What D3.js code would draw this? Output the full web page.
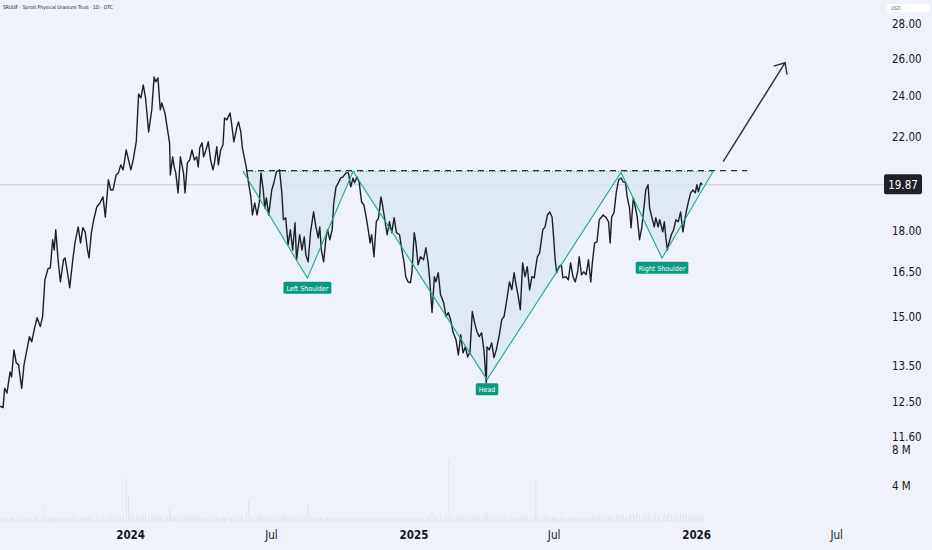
<!DOCTYPE html>
<html>
<head>
<meta charset="utf-8">
<script src="https://cdn.jsdelivr.net/npm/d3@7"></script>
<style>
html, body { margin: 0; padding: 0; background: #eff2fa; overflow: hidden; }
svg { display: block; }
</style>
</head>
<body>
<svg id="svg"></svg>
<script>
// daily closes (date, price in USD)
const closes = [
  ["2023-07-17",12.39],["2023-07-21",12.35],["2023-07-23",12.87],["2023-07-26",12.74],["2023-07-30",13.33],
  ["2023-08-01",13.19],["2023-08-04",13.97],["2023-08-07",13.59],["2023-08-10",13.53],["2023-08-14",12.87],
  ["2023-08-17",13.53],["2023-08-20",13.88],["2023-08-24",14.37],["2023-08-27",14.21],["2023-08-31",14.68],
  ["2023-09-03",14.96],["2023-09-07",14.68],["2023-09-10",14.99],["2023-09-13",16.22],["2023-09-17",16.61],
  ["2023-09-20",16.64],["2023-09-23",17.67],["2023-09-25",17.29],["2023-09-27",18.05],["2023-09-30",16.93],
  ["2023-10-03",16.15],["2023-10-07",16.93],["2023-10-09",17.00],["2023-10-13",16.33],["2023-10-15",15.95],
  ["2023-10-19",16.93],["2023-10-22",17.59],["2023-10-26",18.16],["2023-10-29",17.55],["2023-11-01",18.13],
  ["2023-11-04",17.97],["2023-11-07",17.29],["2023-11-09",17.00],["2023-11-12",17.94],["2023-11-15",18.44],
  ["2023-11-19",18.95],["2023-11-23",19.11],["2023-11-27",19.36],["2023-11-30",18.55],["2023-12-04",20.08],
  ["2023-12-07",19.65],["2023-12-10",19.65],["2023-12-14",20.29],["2023-12-17",20.38],["2023-12-20",20.73],
  ["2023-12-23",20.51],["2023-12-27",21.40],["2023-12-30",20.95],["2024-01-02",20.51],["2024-01-05",20.95],
  ["2024-01-09",21.78],["2024-01-12",24.12],["2024-01-15",23.91],["2024-01-18",24.59],["2024-01-21",23.91],
  ["2024-01-25",22.24],["2024-01-29",23.31],["2024-02-01",25.01],["2024-02-03",24.75],["2024-02-06",24.96],
  ["2024-02-09",23.31],["2024-02-11",23.66],["2024-02-15",23.16],["2024-02-18",22.43],["2024-02-21",21.73],
  ["2024-02-22",20.29],["2024-02-25",21.09],["2024-02-27",20.64],["2024-02-29",20.38],["2024-03-03",19.53],
  ["2024-03-06",21.09],["2024-03-10",20.38],["2024-03-12",19.53],["2024-03-15",20.82],["2024-03-18",20.95],
  ["2024-03-21",21.40],["2024-03-24",20.95],["2024-03-27",21.09],["2024-03-29",20.64],["2024-03-31",21.50],
  ["2024-04-03",21.73],["2024-04-05",21.09],["2024-04-08",21.40],["2024-04-11",21.78],["2024-04-14",20.95],
  ["2024-04-17",20.51],["2024-04-19",20.82],["2024-04-22",21.55],["2024-04-24",20.73],["2024-04-27",21.40],
  ["2024-04-30",21.64],["2024-05-02",22.91],["2024-05-05",22.82],["2024-05-09",23.16],["2024-05-11",22.67],
  ["2024-05-14",21.78],["2024-05-18",22.48],["2024-05-20",22.72],["2024-05-23",22.24],["2024-05-25",21.50],
  ["2024-05-30",20.64],["2024-06-02",19.95],["2024-06-05",19.36],["2024-06-07",18.63],["2024-06-10",19.11],
  ["2024-06-13",18.63],["2024-06-16",19.15],["2024-06-18",20.38],["2024-06-21",19.65],["2024-06-23",18.91],
  ["2024-06-25",19.32],["2024-06-28",18.63],["2024-07-02",19.65],["2024-07-05",19.99],["2024-07-08",20.42],
  ["2024-07-12",20.51],["2024-07-15",19.53],["2024-07-17",18.44],["2024-07-20",18.52],["2024-07-23",17.48],
  ["2024-07-26",18.05],["2024-07-29",17.29],["2024-08-01",18.32],["2024-08-03",16.93],["2024-08-07",17.86],
  ["2024-08-10",17.29],["2024-08-13",17.78],["2024-08-15",17.11],["2024-08-18",16.86],["2024-08-21",17.94],
  ["2024-08-25",18.75],["2024-08-28",18.16],["2024-08-31",17.74],["2024-09-02",18.16],["2024-09-04",17.29],
  ["2024-09-07",16.86],["2024-09-10",17.74],["2024-09-12",18.05],["2024-09-15",17.67],["2024-09-18",18.05],
  ["2024-09-20",19.11],["2024-09-23",19.78],["2024-09-26",19.95],["2024-09-29",20.16],["2024-10-02",20.21],
  ["2024-10-06",20.38],["2024-10-09",20.38],["2024-10-12",19.78],["2024-10-15",20.16],["2024-10-17",19.95],
  ["2024-10-20",20.21],["2024-10-23",19.95],["2024-10-26",19.15],["2024-10-29",19.03],["2024-11-01",18.52],
  ["2024-11-03",18.16],["2024-11-06",17.55],["2024-11-08",17.86],["2024-11-11",17.04],["2024-11-14",18.36],
  ["2024-11-17",18.52],["2024-11-20",19.36],["2024-11-22",19.03],["2024-11-25",18.44],["2024-11-28",17.86],
  ["2024-12-01",18.36],["2024-12-04",17.94],["2024-12-07",18.52],["2024-12-10",17.94],["2024-12-14",17.86],
  ["2024-12-17",17.29],["2024-12-20",16.82],["2024-12-22",16.33],["2024-12-25",16.15],["2024-12-28",16.12],
  ["2024-12-30",16.47],["2025-01-02",17.94],["2025-01-04",17.59],["2025-01-07",16.75],["2025-01-10",17.04],
  ["2025-01-14",16.93],["2025-01-17",17.37],["2025-01-20",16.82],["2025-01-22",16.22],["2025-01-25",15.13],
  ["2025-01-28",16.33],["2025-01-30",16.15],["2025-02-02",16.47],["2025-02-05",15.71],["2025-02-09",15.45],
  ["2025-02-12",15.00],["2025-02-15",15.13],["2025-02-18",14.90],["2025-02-21",14.52],["2025-02-25",14.27],
  ["2025-02-28",13.82],["2025-03-03",14.43],["2025-03-06",13.88],["2025-03-09",14.06],["2025-03-12",13.76],
  ["2025-03-15",13.91],["2025-03-18",15.16],["2025-03-21",14.80],["2025-03-24",14.52],["2025-03-27",14.37],
  ["2025-03-30",14.49],["2025-04-02",13.97],["2025-04-05",13.02],["2025-04-06",14.06],["2025-04-09",13.97],
  ["2025-04-12",14.18],["2025-04-15",13.74],["2025-04-18",13.97],["2025-04-22",14.43],["2025-04-25",14.90],
  ["2025-04-28",15.00],["2025-05-01",15.45],["2025-05-05",16.15],["2025-05-08",15.88],["2025-05-11",16.47],
  ["2025-05-13",16.12],["2025-05-16",15.71],["2025-05-19",15.22],["2025-05-22",16.82],["2025-05-25",16.33],
  ["2025-05-28",16.68],["2025-05-31",15.88],["2025-06-03",16.33],["2025-06-06",16.29],["2025-06-08",16.68],
  ["2025-06-10",17.04],["2025-06-13",17.18],["2025-06-17",18.05],["2025-06-20",18.16],["2025-06-23",18.63],
  ["2025-06-26",18.75],["2025-06-29",18.55],["2025-07-01",17.78],["2025-07-03",16.93],["2025-07-05",16.47],
  ["2025-07-08",16.68],["2025-07-11",16.75],["2025-07-13",16.29],["2025-07-17",16.33],["2025-07-20",16.22],
  ["2025-07-23",16.82],["2025-07-26",16.33],["2025-07-29",16.15],["2025-08-01",16.50],["2025-08-03",17.04],
  ["2025-08-06",16.40],["2025-08-09",16.50],["2025-08-12",16.40],["2025-08-15",16.93],["2025-08-18",16.15],
  ["2025-08-20",16.82],["2025-08-23",17.55],["2025-08-26",17.59],["2025-08-29",18.44],["2025-09-01",18.55],
  ["2025-09-03",18.63],["2025-09-07",18.52],["2025-09-10",18.36],["2025-09-12",17.55],["2025-09-14",18.55],
  ["2025-09-17",18.71],["2025-09-20",19.57],["2025-09-23",20.08],["2025-09-26",20.16],["2025-09-29",19.99],
  ["2025-10-02",19.95],["2025-10-04",19.36],["2025-10-07",18.91],["2025-10-09",18.13],["2025-10-12",19.32],
  ["2025-10-14",19.03],["2025-10-17",18.55],["2025-10-20",17.67],["2025-10-23",18.16],["2025-10-26",19.03],
  ["2025-10-28",19.65],["2025-10-31",19.87],["2025-11-02",18.91],["2025-11-05",18.52],["2025-11-08",18.16],
  ["2025-11-10",18.52],["2025-11-13",18.16],["2025-11-15",18.44],["2025-11-19",17.97],["2025-11-21",18.36],
  ["2025-11-23",17.74],["2025-11-25",17.29],["2025-11-27",17.55],["2025-11-30",17.86],["2025-12-03",18.05],
  ["2025-12-06",18.44],["2025-12-09",18.36],["2025-12-12",18.75],["2025-12-15",17.97],["2025-12-16",18.16],
  ["2025-12-19",18.71],["2025-12-22",19.15],["2025-12-25",19.53],["2025-12-28",19.65],["2025-12-31",19.53],
  ["2026-01-02",19.87],["2026-01-04",19.57],["2026-01-07",19.95],["2026-01-09",19.87]
];

// volume in millions, one value per close above
const volumes = [
  0.3,0.4,0.3,0.5,0.4,0.6,0.5,0.4,0.7,0.5,0.4,0.6,0.5,0.4,0.6,0.5,0.4,0.6,1.5,0.6,
  0.5,0.7,0.5,0.4,0.6,0.5,0.4,0.5,0.3,0.4,0.5,0.6,0.4,0.5,0.4,0.6,0.5,0.7,0.5,0.4,
  0.6,0.5,0.7,0.5,0.6,0.8,0.6,0.5,0.7,0.6,0.9,5.0,2.9,1.1,0.8,0.9,0.7,0.6,0.9,0.7,
  0.6,0.8,0.7,0.6,0.9,0.7,0.6,0.8,0.7,1.5,0.8,0.6,0.7,0.5,0.6,0.7,0.5,0.6,0.8,0.5,
  0.6,0.5,0.7,0.4,0.6,0.5,0.4,0.6,0.5,0.7,0.4,0.5,0.6,0.4,0.5,0.6,0.5,0.7,0.4,0.5,
  0.6,0.5,0.4,0.6,0.7,0.9,2.4,0.8,0.6,0.7,0.5,0.6,0.8,0.5,0.4,0.6,0.7,0.5,0.6,0.7,
  0.5,0.6,0.8,0.6,0.5,0.7,0.6,0.5,0.7,0.8,0.6,0.5,0.7,2.1,0.6,0.5,0.6,0.4,0.5,0.6,
  0.4,0.5,0.6,0.4,0.5,0.4,0.6,0.5,0.3,0.4,0.5,0.4,0.3,0.5,0.4,0.3,0.4,0.5,0.3,0.4,
  0.5,0.3,0.4,0.5,0.4,0.3,0.5,0.4,0.3,0.4,0.5,0.3,0.4,0.3,0.5,0.4,0.3,0.4,0.3,0.4,
  0.5,0.3,0.4,0.5,0.4,0.3,0.4,0.6,0.5,1.5,0.7,0.5,0.6,0.8,0.6,0.9,6.9,0.9,0.7,0.6,
  0.5,0.7,0.6,0.5,0.6,0.7,0.5,0.6,0.8,0.6,0.7,0.9,1.2,0.8,0.6,0.7,0.5,0.6,0.5,0.7,
  0.6,0.5,0.4,0.6,0.5,0.4,0.6,0.5,0.6,0.7,0.5,0.6,0.7,0.9,4.9,1.0,0.7,0.6,0.8,0.7,
  0.6,0.5,0.7,0.6,0.5,0.4,0.6,0.5,0.4,0.5,0.6,0.4,0.5,0.6,0.4,0.5,0.4,0.6,0.5,0.4,
  0.5,0.6,0.5,0.7,0.6,0.5,0.7,0.6,0.8,0.6,0.7,0.8,0.9,0.7,0.8,0.6,0.7,0.9,0.8,1.0,
  0.8,1.3,0.9,0.7,1.0,0.8,1.3,0.9,0.7,0.8,1.1,0.7,0.9,0.8,1.0,0.7,0.8,1.2,0.8,0.7,
  0.9,0.8,1.0,0.7,0.8,0.9,0.7,0.6,0.8,0.7,0.6,0.7,0.5,0.6
];

const priceTicks = [28, 26, 24, 22, 18, 16.5, 15, 13.5, 12.5, 11.6];
const volumeTicks = [4, 8];
const timeTicks = ["2024-01-01", "2024-07-01", "2025-01-01", "2025-07-01", "2026-01-01", "2026-07-01"];
const timeLabels = ["2024", "Jul", "2025", "Jul", "2026", "Jul"];

// inverse head & shoulders drawing
const patternDates = ["2024-05-26", "2024-08-17", "2024-10-15", "2025-04-06", "2025-09-26", "2025-11-18", "2026-01-23"];
const patternValues = [20.44, 16.28, 20.44, 13.11, 20.40, 16.99, 20.44];
const patternLabels = [
  { at: 1, text: "Left Shoulder" },
  { at: 3, text: "Head" },
  { at: 5, text: "Right Shoulder" }
];
const necklineDates = ["2024-05-31", "2026-03-08"];
const necklineValue = 20.48;
const arrowDates = ["2026-02-05", "2026-04-26"];
const arrowValues = [20.88, 25.78];
const lastPrice = 19.87;

const width = 932;
const height = 550;
const plotRight = 885;
const axisFont = "'Liberation Sans Narrow', 'DejaVu Sans Condensed', 'DejaVu Sans', sans-serif";
const teal = "#1fa88f";

const parseDate = d3.timeParse("%Y-%m-%d");

let svg = d3.select("#svg").attr("width", width).attr("height", height);

svg.append("rect")
  .attr("width", width).attr("height", height)
  .attr("fill", "#eff2fa");

const xScale = d3.scaleTime()
  .domain([parseDate("2023-07-17"), parseDate("2026-09-02")])
  .range([0, plotRight]);

const yScale = d3.scaleLog()
  .domain([11.6, 28])
  .range([437, 24]);

const volScale = d3.scaleLinear()
  .domain([0, 8])
  .range([522, 450]);

// volume bars
svg.append("g")
  .selectAll("rect")
  .data(closes.map((d, i) => ({ date: parseDate(d[0]), vol: volumes[i] })))
  .join("rect")
  .attr("x", d => xScale(d.date) - 0.5)
  .attr("width", 1)
  .attr("y", d => volScale(d.vol))
  .attr("height", d => volScale(0) - volScale(d.vol))
  .attr("fill", "rgba(125,128,140,0.13)");

// last price line
svg.append("line")
  .attr("x1", 0).attr("x2", plotRight)
  .attr("y1", yScale(lastPrice)).attr("y2", yScale(lastPrice))
  .attr("stroke", "#c6c9d2")
  .attr("stroke-width", 1);

// pattern fill
const patternPts = patternDates.map((d, i) => [xScale(parseDate(d)), yScale(patternValues[i])]);

svg.append("path")
  .attr("d", d3.line()(patternPts) + "Z")
  .attr("fill", "#dbe7f1")
  .attr("fill-opacity", 0.85)
  .attr("stroke", "none");

// dotted top edge of the pattern
svg.append("line")
  .attr("x1", patternPts[0][0]).attr("y1", patternPts[0][1])
  .attr("x2", patternPts[patternPts.length - 1][0]).attr("y2", patternPts[patternPts.length - 1][1])
  .attr("stroke", teal)
  .attr("stroke-width", 1)
  .attr("stroke-dasharray", "1,2");

// neckline
svg.append("line")
  .attr("x1", xScale(parseDate(necklineDates[0])))
  .attr("x2", xScale(parseDate(necklineDates[1])))
  .attr("y1", yScale(necklineValue)).attr("y2", yScale(necklineValue))
  .attr("stroke", "#2a2e39")
  .attr("stroke-width", 1.2)
  .attr("stroke-dasharray", "6,5");

// price line
const priceLine = d3.line()
  .x(d => xScale(parseDate(d[0])))
  .y(d => yScale(d[1]));

svg.append("path")
  .datum(closes)
  .attr("d", priceLine)
  .attr("fill", "none")
  .attr("stroke", "#1c1f26")
  .attr("stroke-width", 1.4)
  .attr("stroke-linejoin", "round");

// pattern legs
svg.append("path")
  .attr("d", d3.line()(patternPts))
  .attr("fill", "none")
  .attr("stroke", teal)
  .attr("stroke-width", 1.1);

// pattern labels
patternLabels.forEach(l => {
  const px = patternPts[l.at][0];
  const py = patternPts[l.at][1];
  const g = svg.append("g");
  const t = g.append("text")
    .attr("x", px)
    .attr("y", py + 12.5)
    .attr("text-anchor", "middle")
    .style("font-family", "'DejaVu Sans Condensed', 'DejaVu Sans', sans-serif")
    .style("font-size", "7px")
    .style("fill", "white")
    .text(l.text);
  const w = t.node().getComputedTextLength() + 6;
  g.insert("rect", "text")
    .attr("x", px - w / 2)
    .attr("y", py + 3.5)
    .attr("width", w)
    .attr("height", 12)
    .attr("rx", 1.5)
    .attr("fill", "#089981");
});

// projection arrow
const a0 = [xScale(parseDate(arrowDates[0])), yScale(arrowValues[0])];
const a1 = [xScale(parseDate(arrowDates[1])), yScale(arrowValues[1])];
const ang = Math.atan2(a0[1] - a1[1], a0[0] - a1[0]);
const headLen = 12;
const spread = 0.72;
svg.append("line")
  .attr("x1", a0[0]).attr("y1", a0[1])
  .attr("x2", a1[0]).attr("y2", a1[1])
  .attr("stroke", "#2a2e39")
  .attr("stroke-width", 1.4);
svg.append("path")
  .attr("d", d3.line()([
    [a1[0] + headLen * Math.cos(ang - spread), a1[1] + headLen * Math.sin(ang - spread)],
    a1,
    [a1[0] + headLen * Math.cos(ang + spread), a1[1] + headLen * Math.sin(ang + spread)]
  ]))
  .attr("fill", "none")
  .attr("stroke", "#2a2e39")
  .attr("stroke-width", 1.4);

// price axis
const priceAxis = svg.append("g")
  .attr("transform", "translate(892,0)")
  .call(d3.axisRight(yScale).tickValues(priceTicks).tickFormat(d3.format(".2f")).tickSize(0).tickPadding(0));
priceAxis.select(".domain").remove();
priceAxis.selectAll("text")
  .style("font-family", axisFont)
  .style("font-size", "11.5px")
  .style("fill", "#131722");

// volume axis
const volAxis = svg.append("g")
  .attr("transform", "translate(892,0)")
  .call(d3.axisRight(volScale).tickValues(volumeTicks).tickFormat(d => d + " M").tickSize(0).tickPadding(0));
volAxis.select(".domain").remove();
volAxis.selectAll("text")
  .style("font-family", axisFont)
  .style("font-size", "11.5px")
  .style("fill", "#131722");

// time axis
const timeAxis = svg.append("g")
  .attr("transform", "translate(0,531)")
  .call(d3.axisBottom(xScale)
    .tickValues(timeTicks.map(parseDate))
    .tickFormat((d, i) => timeLabels[i])
    .tickSize(0).tickPadding(0));
timeAxis.select(".domain").remove();
timeAxis.selectAll("text")
  .style("font-family", axisFont)
  .style("font-size", "11.5px")
  .style("font-weight", (d, i) => timeLabels[i] === "Jul" ? "normal" : "bold")
  .style("fill", "#131722");

// last price badge
const badgeY = yScale(lastPrice);
svg.append("rect")
  .attr("x", 884).attr("y", badgeY - 10.5)
  .attr("width", 38).attr("height", 20)
  .attr("rx", 2)
  .attr("fill", "#1e2129");
svg.append("text")
  .attr("x", 903).attr("y", badgeY + 4)
  .attr("text-anchor", "middle")
  .style("font-family", axisFont)
  .style("font-size", "11.5px")
  .style("fill", "white")
  .text(lastPrice.toFixed(2));

// currency box
svg.append("rect")
  .attr("x", 887).attr("y", 4)
  .attr("width", 43).attr("height", 8)
  .attr("rx", 1.5)
  .attr("fill", "white");
svg.append("text")
  .attr("x", 891).attr("y", 10)
  .style("font-family", axisFont)
  .style("font-size", "5px")
  .style("fill", "#50535e")
  .text("USD");

// title
svg.append("text")
  .attr("x", 3).attr("y", 9)
  .style("font-family", "'DejaVu Sans Condensed', 'DejaVu Sans', sans-serif")
  .style("font-size", "5px")
  .style("fill", "#131722")
  .text("SRUUF · Sprott Physical Uranium Trust · 1D · OTC");
</script>
</body>
</html>
